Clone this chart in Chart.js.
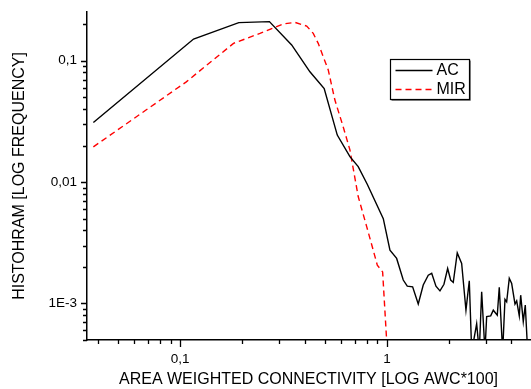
<!DOCTYPE html>
<html lang="en">
<head>
<meta charset="UTF-8">
<title>Histogram - area weighted connectivity</title>
<script src="https://cdn.jsdelivr.net/npm/chart.js"></script>
<style>
  html, body { margin: 0; padding: 0; background: #fff; }
  #wrap { position: relative; width: 531px; height: 389px; }
</style>
</head>
<body>
<div id="wrap"><canvas id="histChart"></canvas></div>
<script>
// AC series (black, solid line)
const acX = [0.038, 0.116, 0.192, 0.270, 0.346, 0.424, 0.497, 0.575, 0.662, 0.726, 0.803, 0.960,
             1.034, 1.114, 1.199, 1.254, 1.331, 1.417, 1.498, 1.584, 1.646, 1.726, 1.805, 1.887,
             1.966, 2.033, 2.093, 2.188, 2.298, 2.411, 2.502, 2.570, 2.716, 2.796, 2.872, 2.979,
             3.036, 3.176, 3.269, 3.417, 3.494, 3.628, 3.723, 3.794, 3.906, 4.012, 4.163, 4.242,
             4.366, 4.435, 4.565, 4.668, 4.794];
const acY = [0.031, 0.151, 0.206, 0.210, 0.135, 0.081, 0.059, 0.0244, 0.0162, 0.0134, 0.0096, 0.0050,
             0.00275, 0.00235, 0.00156, 0.00139, 0.00137, 0.00099, 0.00142, 0.00171, 0.00177, 0.00139, 0.00127, 0.00144,
             0.00194, 0.00156, 0.00149, 0.00261, 0.00214, 0.00088, 0.00154, 0.0004, 0.00068, 0.0004, 0.00125, 0.0004,
             0.00078, 0.00079, 0.00088, 0.0008, 0.00136, 0.0004, 0.00108, 0.00103, 0.00161, 0.00146, 0.00099, 0.00105,
             0.00079, 0.00117, 0.00071, 0.00097, 0.0004];

// MIR series (red, dashed line)
const mirX = [0.038, 0.107, 0.181, 0.243, 0.315, 0.359, 0.409, 0.440, 0.465, 0.520, 0.560, 0.614,
              0.662, 0.726, 0.798, 0.858, 0.898, 0.953, 1.0];
const mirY = [0.0195, 0.067, 0.139, 0.168, 0.201, 0.207, 0.193, 0.168, 0.139, 0.084, 0.0474, 0.0286,
              0.0184, 0.0076, 0.0043, 0.00275, 0.00207, 0.00182, 0.00045];

// labelled ticks
const xTickValues = [0.1, 1];
const xTickLabels = ['0,1', '1'];
const yTickValues = [0.001, 0.01, 0.1];
const yTickLabels = ['1E-3', '0,01', '0,1'];

const FONT = '"Liberation Sans", Arial, Helvetica, sans-serif';

function toPoints(xs, ys) {
  return xs.map((x, i) => ({ x: x, y: ys[i] }));
}

// 1..9 x 10^n ticks inside the range
function logTicks(min, max) {
  const t = [];
  for (let e = Math.floor(Math.log10(min)); e <= Math.ceil(Math.log10(max)); e++) {
    for (let m = 1; m < 10; m++) {
      const v = m * Math.pow(10, e);
      if (v >= min * 0.999 && v <= max * 1.001) t.push({ value: v, major: m === 1 });
    }
  }
  return t;
}

function labelFor(values, labels, v) {
  for (let i = 0; i < values.length; i++) {
    if (Math.abs(v - values[i]) / values[i] < 1e-6) return labels[i];
  }
  return '';
}

function isDecade(v) {
  const l = Math.log10(v);
  return Math.abs(l - Math.round(l)) < 1e-6;
}

// outward tick marks, long on decades, short in between
const tickMarks = {
  id: 'tickMarks',
  afterDraw(chart) {
    const ctx = chart.ctx;
    const xs = chart.scales.x, ys = chart.scales.y;
    const area = chart.chartArea;
    ctx.save();
    ctx.strokeStyle = '#000';
    ctx.lineWidth = 1.3;
    ctx.beginPath();
    xs.ticks.forEach(t => {
      const px = Math.round(xs.getPixelForValue(t.value)) + 0.5;
      const len = isDecade(t.value) ? 7 : 4;
      ctx.moveTo(px, area.bottom);
      ctx.lineTo(px, area.bottom + len);
    });
    ys.ticks.forEach(t => {
      const py = Math.round(ys.getPixelForValue(t.value)) + 0.5;
      const len = isDecade(t.value) ? 6 : 4;
      ctx.moveTo(area.left, py);
      ctx.lineTo(area.left - len, py);
    });
    ctx.stroke();
    ctx.restore();
  }
};

// boxed legend inside the plot
const boxLegend = {
  id: 'boxLegend',
  afterDraw(chart) {
    const ctx = chart.ctx;
    const area = chart.chartArea;
    const bx = area.left + 303.5, by = area.top + 47.5, bw = 79, bh = 40;
    ctx.save();
    ctx.fillStyle = '#fff';
    ctx.fillRect(bx, by, bw, bh);
    ctx.strokeStyle = '#888';
    ctx.lineWidth = 1;
    ctx.beginPath();
    ctx.moveTo(bx + bw + 1, by + 1);
    ctx.lineTo(bx + bw + 1, by + bh + 1);
    ctx.lineTo(bx + 1, by + bh + 1);
    ctx.stroke();
    ctx.strokeStyle = '#000';
    ctx.lineWidth = 1.2;
    ctx.strokeRect(bx, by, bw, bh);
    ctx.font = '16px ' + FONT;
    ctx.textBaseline = 'middle';
    ctx.fillStyle = '#000';
    chart.data.datasets.forEach((ds, i) => {
      const y = by + 11 + i * 19;
      ctx.strokeStyle = ds.borderColor;
      ctx.lineWidth = ds.borderWidth;
      ctx.setLineDash(ds.borderDash || []);
      ctx.beginPath();
      ctx.moveTo(bx + 5, y);
      ctx.lineTo(bx + 42, y);
      ctx.stroke();
      ctx.setLineDash([]);
      ctx.fillText(ds.label, bx + 46, y + 0.5);
    });
    ctx.restore();
  }
};

new Chart(document.getElementById('histChart'), {
  type: 'line',
  data: {
    datasets: [
      {
        label: 'AC',
        data: toPoints(acX, acY),
        borderColor: '#000000',
        borderWidth: 1.4,
        pointRadius: 0,
        tension: 0
      },
      {
        label: 'MIR',
        data: toPoints(mirX, mirY),
        borderColor: '#ff0000',
        borderWidth: 1.4,
        borderDash: [6, 4],
        pointRadius: 0,
        tension: 0
      }
    ]
  },
  options: {
    responsive: true,
    maintainAspectRatio: false,
    animation: false,
    layout: { padding: { top: 12, right: 1, left: 0, bottom: 0 } },
    plugins: {
      legend: { display: false },
      tooltip: { enabled: false }
    },
    scales: {
      x: {
        type: 'logarithmic',
        position: 'bottom',
        min: 0.0354,
        max: 4.92,
        grid: { display: false, drawTicks: false },
        border: { display: true, color: '#000', width: 1.5 },
        afterBuildTicks: s => { s.ticks = logTicks(s.min, s.max); },
        afterFit: s => { s.height = 49; s.paddingLeft = 0; s.paddingRight = 0; },
        ticks: {
          autoSkip: false,
          maxRotation: 0,
          padding: 11,
          color: '#000',
          font: { family: FONT, size: 13.5 },
          callback: v => labelFor(xTickValues, xTickLabels, v)
        },
        title: {
          display: true,
          text: 'AREA WEIGHTED CONNECTIVITY [LOG AWC*100]',
          color: '#000',
          font: { family: FONT, size: 16, lineHeight: 1.2 },
          padding: { top: 0, bottom: 0 }
        }
      },
      y: {
        type: 'logarithmic',
        position: 'left',
        min: 0.0005,
        max: 0.252,
        grid: { display: false, drawTicks: false },
        border: { display: true, color: '#000', width: 1.5 },
        afterBuildTicks: s => { s.ticks = logTicks(s.min, s.max); },
        afterFit: s => { s.width = 87; s.paddingTop = 0; s.paddingBottom = 0; },
        ticks: {
          autoSkip: false,
          padding: 10,
          color: '#000',
          font: { family: FONT, size: 13.5 },
          callback: v => labelFor(yTickValues, yTickLabels, v)
        },
        title: {
          display: true,
          text: 'HISTOHRAM [LOG FREQUENCY]',
          color: '#000',
          font: { family: FONT, size: 16, lineHeight: 1.2 },
          padding: { top: 10, bottom: 0 }
        }
      }
    }
  },
  plugins: [tickMarks, boxLegend]
});
</script>
</body>
</html>
